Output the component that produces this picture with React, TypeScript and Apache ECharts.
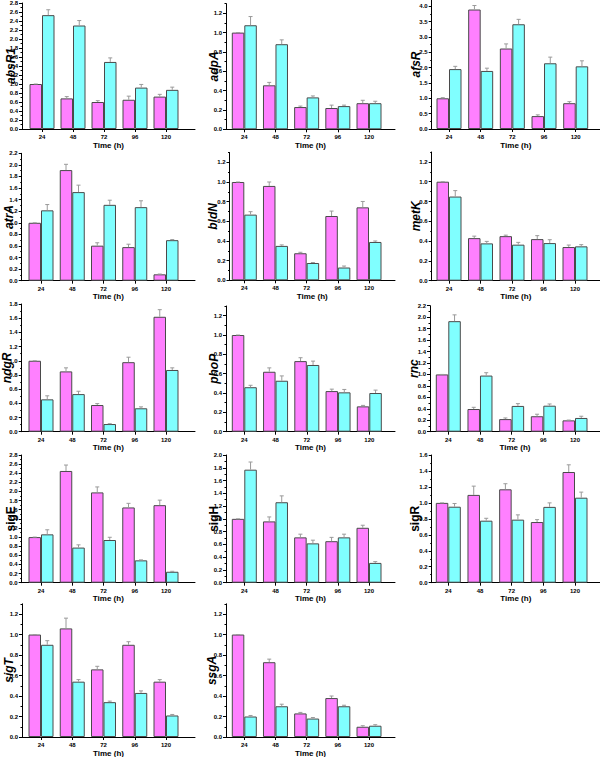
import React, { useEffect, useRef } from 'react';
import * as echarts from 'echarts';

const TIMES = ['24', '48', '72', '96', '120'];
const GENES = ['absR1', 'adpA', 'afsR', 'atrA', 'bldN', 'metK', 'ndgR', 'phoP', 'rnc', 'sigE', 'sigH', 'sigR', 'sigT', 'ssgA'];
const GENE_ITALIC = [true, true, true, true, true, true, true, true, true, false, false, false, true, true];

// magenta bars (per gene, per time)
const pinkValues = [
  [1.0, 0.68, 0.60, 0.65, 0.72],
  [1.0, 0.455, 0.23, 0.22, 0.27],
  [1.0, 3.89, 2.62, 0.42, 0.84],
  [1.0, 1.91, 0.605, 0.58, 0.11],
  [1.0, 0.96, 0.275, 0.654, 0.742],
  [1.0, 0.43, 0.45, 0.42, 0.34],
  [1.0, 0.85, 0.376, 0.98, 1.62],
  [1.0, 0.62, 0.73, 0.42, 0.262],
  [1.0, 0.396, 0.22, 0.27, 0.198],
  [1.0, 2.45, 1.98, 1.65, 1.70],
  [1.0, 0.96, 0.71, 0.65, 0.86],
  [1.0, 1.10, 1.17, 0.76, 1.387],
  [1.0, 1.06, 0.66, 0.90, 0.54],
  [1.0, 0.73, 0.23, 0.38, 0.10],
];
const pinkErrors = [
  [0, 0.04, 0.03, 0.08, 0.05],
  [0, 0.03, 0.01, 0.03, 0.03],
  [0.02, 0.13, 0.15, 0.04, 0.05],
  [0, 0.1, 0.05, 0.05, 0.005],
  [0, 0.04, 0.01, 0.05, 0.06],
  [0, 0.02, 0.01, 0.035, 0.02],
  [0, 0.05, 0.02, 0.07, 0.1],
  [0, 0.04, 0.035, 0.02, 0.01],
  [0, 0.03, 0.02, 0.035, 0.005],
  [0, 0.13, 0.12, 0.09, 0.11],
  [0, 0.07, 0.05, 0.06, 0.04],
  [0, 0.11, 0.07, 0.03, 0.09],
  [0, 0.1, 0.03, 0.03, 0.02],
  [0, 0.03, 0.01, 0.02, 0.01],
];
// cyan bars
const cyanValues = [
  [2.53, 2.30, 1.49, 0.92, 0.87],
  [1.076, 0.88, 0.33, 0.24, 0.27],
  [1.95, 1.89, 3.41, 2.14, 2.04],
  [1.215, 1.53, 1.31, 1.27, 0.70],
  [0.668, 0.35, 0.176, 0.13, 0.39],
  [0.85, 0.377, 0.364, 0.38, 0.347],
  [0.456, 0.53, 0.108, 0.33, 0.87],
  [0.46, 0.527, 0.69, 0.407, 0.40],
  [1.93, 0.98, 0.45, 0.454, 0.24],
  [1.06, 0.77, 0.936, 0.49, 0.24],
  [1.77, 1.26, 0.616, 0.71, 0.31],
  [0.952, 0.777, 0.79, 0.95, 1.065],
  [0.90, 0.54, 0.34, 0.43, 0.21],
  [0.20, 0.30, 0.18, 0.30, 0.11],
];
const cyanErrors = [
  [0.12, 0.11, 0.09, 0.07, 0.06],
  [0.09, 0.045, 0.015, 0.01, 0.02],
  [0.09, 0.09, 0.16, 0.2, 0.18],
  [0.1, 0.12, 0.08, 0.11, 0.01],
  [0.03, 0.01, 0.005, 0.015, 0.01],
  [0.06, 0.02, 0.023, 0.034, 0.017],
  [0.05, 0.04, 0.005, 0.02, 0.03],
  [0.02, 0.05, 0.04, 0.03, 0.03],
  [0.11, 0.05, 0.04, 0.03, 0.03],
  [0.1, 0.06, 0.06, 0.01, 0.01],
  [0.12, 0.1, 0.05, 0.05, 0.02],
  [0.04, 0.03, 0.06, 0.05, 0.07],
  [0.04, 0.02, 0.01, 0.02, 0.01],
  [0.01, 0.02, 0.01, 0.01, 0.01],
];

// y-axis extent and tick step per panel
const Y_MAX = [2.8, 1.3, 4.2, 2.2, 1.3, 1.3, 1.8, 1.3, 2.2, 2.8, 2.0, 1.6, 1.3, 1.3];
const Y_STEP = [0.2, 0.2, 0.5, 0.2, 0.2, 0.2, 0.2, 0.2, 0.2, 0.2, 0.2, 0.2, 0.2, 0.2];

// panel boxes in pixels: [axisLeft, top(yMax), bottom(y=0), firstTickX, lastTickX, axisRight]
const BOXES = [
  [22, 3, 129, 42, 166, 195],
  [226, 3.6, 129.3, 244.3, 369, 395],
  [431.7, 0, 129, 449, 575.7, 600],
  [21.7, 153.3, 280.7, 41, 166, 195],
  [229.5, 152.5, 280.3, 244.3, 369, 395],
  [431.7, 152, 280.7, 449, 575, 600],
  [21.7, 304, 431.7, 41, 166, 195],
  [226, 306, 431.7, 244.3, 369.3, 395],
  [430, 305.7, 431.7, 448.3, 575, 600],
  [21.7, 455, 582.7, 41, 166, 195],
  [226, 455, 582.7, 244.3, 369, 395],
  [431.7, 455, 582.7, 448.3, 575, 600],
  [22, 603.8, 737, 41, 166, 195],
  [226, 603.8, 737, 244.3, 369, 395],
];
// distance between the y axis and its rotated title
const NAME_GAP = [5, 6, 10, 7, 11, 10, 9, 6, 10, 5, 6, 11, 7, 8];

const PINK = '#FF80FF';
const CYAN = '#80FFFF';
const BAR_W = 12.5;
const FONT = "'Liberation Sans', Arial, sans-serif";

function buildOption() {
  const grids: any[] = [];
  const xAxes: any[] = [];
  const yAxes: any[] = [];
  const series: any[] = [];
  GENES.forEach((gene, i) => {
    const [left, top, bottom, first, last, right] = BOXES[i];
    const sp = (last - first) / 4;
    const xMin = 1 - (first - left) / sp;
    const xMax = 5 + (right - last) / sp;
    grids.push({ left, top, width: right - left, height: bottom - top, containLabel: false, outerBoundsMode: 'none' });
    xAxes.push({
      type: 'value', gridIndex: i, min: xMin, max: xMax,
      axisLine: { show: true, onZero: false, lineStyle: { color: '#000', width: 1 } },
      axisTick: { show: true, customValues: [1, 2, 3, 4, 5], length: 3, lineStyle: { color: '#000' } },
      axisLabel: {
        show: true, customValues: [1, 2, 3, 4, 5], margin: 5,
        formatter: (v: number) => TIMES[Math.round(v) - 1] ?? '',
        fontSize: 6, fontWeight: 'bold', color: '#000', fontFamily: FONT,
      },
      splitLine: { show: false },
      name: 'Time (h)', nameLocation: 'middle', nameGap: 12, nameMoveOverlap: false,
      nameTextStyle: { fontSize: 8, fontWeight: 'bold', color: '#000', fontFamily: FONT },
    });
    const step = Y_STEP[i];
    const nLab = Math.floor(Y_MAX[i] / step + 1e-6);
    const ticks: number[] = [];
    for (let k = 0; k <= nLab; k++) ticks.push(+(k * step).toFixed(2));
    yAxes.push({
      type: 'value', gridIndex: i, min: 0, max: Y_MAX[i], interval: step,
      axisLine: { show: true, lineStyle: { color: '#000', width: 1 } },
      axisTick: { show: true, customValues: ticks, length: 3, lineStyle: { color: '#000' } },
      minorTick: { show: true, splitNumber: 2, length: 1.5, lineStyle: { color: '#000' } },
      axisLabel: {
        show: true, customValues: ticks, margin: 4,
        formatter: (v: number) => v.toFixed(1),
        fontSize: 6, fontWeight: 'bold', color: '#000', fontFamily: FONT,
      },
      splitLine: { show: false },
      name: gene, nameLocation: 'middle', nameGap: NAME_GAP[i], nameRotate: 90, nameMoveOverlap: false,
      nameTextStyle: { fontSize: 12, fontWeight: 'bold', fontStyle: GENE_ITALIC[i] ? 'italic' : 'normal', color: '#000', fontFamily: FONT },
    });
    const pinkData = pinkValues[i].map((v, k) => [k + 1, v]);
    const cyanData = cyanValues[i].map((v, k) => [k + 1, v]);
    series.push({
      type: 'bar', xAxisIndex: i, yAxisIndex: i, data: pinkData, barWidth: BAR_W, barGap: '0%',
      itemStyle: { color: PINK, borderColor: '#4a4a4a', borderWidth: 1 },
    });
    series.push({
      type: 'bar', xAxisIndex: i, yAxisIndex: i, data: cyanData, barWidth: BAR_W, barGap: '0%',
      itemStyle: { color: CYAN, borderColor: '#4a4a4a', borderWidth: 1 },
    });
    const errData: number[][] = [];
    pinkValues[i].forEach((v, k) => errData.push([k + 1, v, pinkErrors[i][k], 0]));
    cyanValues[i].forEach((v, k) => errData.push([k + 1, v, cyanErrors[i][k], 1]));
    series.push({
      type: 'custom', xAxisIndex: i, yAxisIndex: i, data: errData, z: 5,
      encode: { x: 0, y: 1 },
      renderItem: (_params: any, api: any) => {
        const x = api.value(0), v = api.value(1), e = api.value(2), s = api.value(3);
        const p0 = api.coord([x, v]);
        const p1 = api.coord([x, v + e]);
        const cx = p0[0] + (s === 0 ? -BAR_W / 2 : BAR_W / 2);
        const st = { stroke: '#9a9a9a', lineWidth: 1 };
        return {
          type: 'group',
          children: [
            { type: 'line', shape: { x1: cx, y1: p0[1], x2: cx, y2: p1[1] }, style: st },
            { type: 'line', shape: { x1: cx - 2, y1: p1[1], x2: cx + 2, y2: p1[1] }, style: st },
          ],
        };
      },
    });
  });
  return {
    animation: false,
    backgroundColor: '#fff',
    grid: grids,
    xAxis: xAxes,
    yAxis: yAxes,
    series,
  };
}

export default function App() {
  const ref = useRef<HTMLDivElement>(null);
  useEffect(() => {
    if (!ref.current) return;
    const chart = echarts.init(ref.current, undefined, { renderer: 'svg' });
    chart.setOption(buildOption() as any);
    return () => chart.dispose();
  }, []);
  return <div ref={ref} style={{ position: 'fixed', left: 0, top: 0, width: 600, height: 757 }} />;
}
